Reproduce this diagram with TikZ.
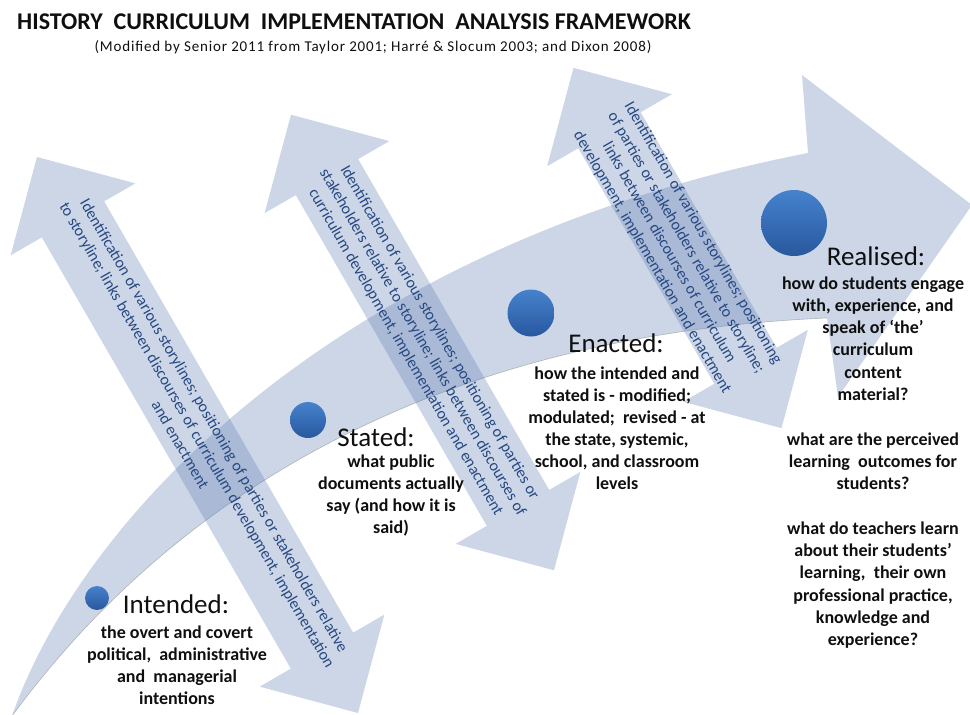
\documentclass[tikz,border=0pt]{standalone}
\usepackage{fontspec}
\setmainfont{Carlito}
\definecolor{arrfill}{RGB}{100,130,180}
\definecolor{arrtextc}{RGB}{38,72,130}
\definecolor{balltop}{RGB}{70,130,205}
\definecolor{ballbot}{RGB}{40,88,158}
\definecolor{labelc}{RGB}{15,15,15}
\tikzset{
  bigarrow/.style={fill=arrfill, fill opacity=.33},
  diagarrow/.style={fill=arrfill, fill opacity=.33},
  arrtext/.style={text=arrtextc, align=center, inner sep=0pt, font=\fontsize{16}{19.5}\selectfont},
  ballnode/.style={circle, inner sep=0pt, top color=balltop, bottom color=ballbot, draw=none},
  heading/.style={text=labelc, inner sep=0pt, font=\fontsize{27}{30}\selectfont},
  desc/.style={text=labelc, align=center, inner sep=0pt, font=\fontsize{18}{22}\selectfont\bfseries},
  titlestyle/.style={text=labelc, inner sep=0pt, font=\fontsize{24}{26}\selectfont\bfseries},
  subtitlestyle/.style={text=labelc, inner sep=0pt, font=\fontsize{15}{17}\selectfont\addfontfeatures{LetterSpace=5.5}}
}
\newcommand\DArrow[3]{%
  \begin{scope}[shift={(#1,#2)},rotate=-60,x=1pt,y=1pt]
    \fill[diagarrow] ({-#3},0) -- ({-#3+72},72) -- ({-#3+72},36) -- ({#3-72},36) -- ({#3-72},72) -- (#3,0) -- ({#3-72},-72) -- ({#3-72},-36) -- ({-#3+72},-36) -- ({-#3+72},-72) -- cycle;
  \end{scope}}
\begin{document}
\begin{tikzpicture}[x=1pt,y=-1pt]
\useasboundingbox (0,0) rectangle (970,715);
% big curved arrow
\fill[bigarrow] (12,716) .. controls (80,520) and (335,245) .. (808,153) -- (802,75) -- (972,205) -- (838,397) -- (827,318) .. controls (550,330) and (230,420) .. (12,716) -- cycle;
\draw[gray, line width=0.6pt, opacity=.5] (827,318) .. controls (550,330) and (230,420) .. (12,716);
% diagonal double arrows
\DArrow{197.5}{435}{321}
\DArrow{422.5}{342.5}{263}
\DArrow{677.5}{248}{208}
\coordinate (a1) at (197.5,435);
\coordinate (a2) at (422.5,342.5);
\coordinate (a3) at (677.5,248);
\node[arrtext, rotate=-60] (t1) at (a1) {Identification of various storylines; positioning of parties or stakeholders relative\\to storyline; links between discourses of curriculum development, implementation\\and enactment};
\node[arrtext, rotate=-60] (t2) at (a2) {Identification of various storylines; positioning of parties or\\stakeholders relative to storyline; links between discourses of\\curriculum development, implementation and enactment};
\node[arrtext, rotate=-60] (t3) at (a3) {Identification of various storylines; positioning\\of parties or stakeholders relative to storyline;\\links between discourses of curriculum\\development, implementation and enactment};
% title
\node[titlestyle, anchor=west] (title) at (17,22) {HISTORY\ \ CURRICULUM\ \ IMPLEMENTATION\ \ ANALYSIS FRAMEWORK};
\node[subtitlestyle] (subtitle) at (373,47) {(Modified by Senior 2011 from Taylor 2001; Harré \& Slocum 2003; and Dixon 2008)};
% balls
\node[ballnode, minimum size=24pt] (c1) at (97,598) {};
\node[ballnode, minimum size=36pt] (c2) at (308,420) {};
\node[ballnode, minimum size=47pt] (c3) at (531,313) {};
\node[ballnode, minimum size=66pt] (c4) at (794,223) {};
% headings
\node[heading] (h1) at (176,604) {Intended:};
\node[heading] (h2) at (376,437) {Stated:};
\node[heading] (h3) at (616,343) {Enacted:};
\node[heading] (h4) at (876,256) {Realised:};
% descriptions
\node[desc] (d1) at (177,665) {the overt and covert\\political,\ \ administrative\\and\ \ managerial\\intentions};
\node[desc] (d2) at (391,496) {what public\\documents actually\\say (and how it is\\said)};
\node[desc] (d3) at (617,428) {how the intended and\\stated is - modified;\\modulated;\ \ revised - at\\the state, systemic,\\school, and classroom\\levels};
\node[desc, font=\fontsize{18}{22.3}\selectfont\bfseries] (d4) at (873,462.5) {how do students engage\\with, experience, and\\speak of `the'\\curriculum\\content\\material?\\[22.3pt]what are the perceived\\learning\ \ outcomes for\\students?\\[22.3pt]what do teachers learn\\about their students'\\learning,\ \ their own\\professional practice,\\knowledge and\\experience?};
\end{tikzpicture}
\end{document}
